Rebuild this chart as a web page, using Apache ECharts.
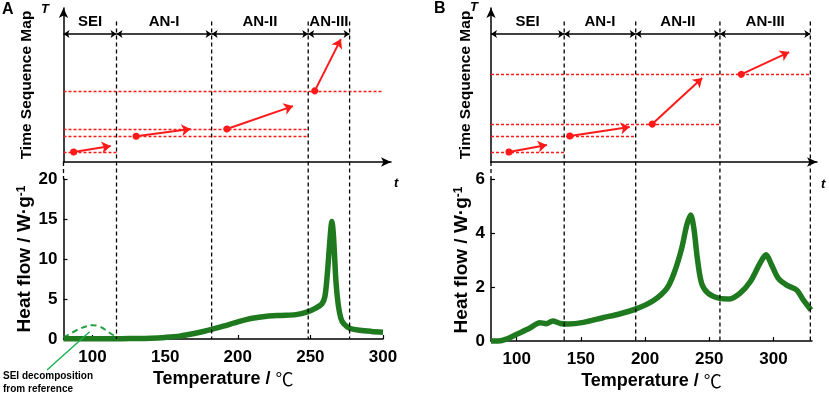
<!DOCTYPE html>
<html><head><meta charset="utf-8">
<script src="https://cdn.jsdelivr.net/npm/echarts@6/dist/echarts.min.js"></script>
<style>html,body{margin:0;padding:0;background:#fff}#c{width:829px;height:395px}</style>
</head><body><div id="c"></div>
<script>
// ---------------- data ----------------
const phases = ['SEI', 'AN-I', 'AN-II', 'AN-III'];
const boundsA = [80, 116.5, 182, 248.5, 277];
const boundsB = [80, 137, 192.7, 258.3, 328.7];

const tempA = [80, 90, 100, 110, 120, 130, 140, 150, 160, 170, 180, 190, 200, 210, 220, 230, 240, 248, 254, 258, 260, 261.6, 263, 264, 264.8, 265.6, 266.4, 267.6, 269.2, 271, 273, 277, 284, 292, 300];
const heatA = [0.02, 0.02, 0.02, 0.03, 0.04, 0.06, 0.1, 0.2, 0.36, 0.68, 1.1, 1.6, 2.15, 2.6, 2.85, 2.95, 3.05, 3.4, 3.9, 4.4, 5.3, 8, 11.3, 13.6, 14.7, 13.6, 11.3, 7.2, 4.25, 2.6, 1.9, 1.35, 1.1, 0.95, 0.85];

const seiTempA = [80, 84, 88, 92, 96, 100, 104, 108, 112, 116];
const seiHeatA = [0.2, 0.6, 1.0, 1.35, 1.6, 1.72, 1.62, 1.25, 0.75, 0.3];

const tempB = [80, 86, 92, 100, 110, 118, 123, 128, 134, 140, 152, 167, 180, 193, 206, 217, 223, 228.5, 232.5, 235.5, 238, 240.7, 244, 249, 258, 266, 274, 282, 289.5, 294.2, 298.6, 303.8, 310.3, 318, 323.2, 329.2];
const heatB = [0, 0, 0.07, 0.25, 0.47, 0.68, 0.64, 0.74, 0.65, 0.63, 0.69, 0.86, 1.0, 1.19, 1.48, 1.95, 2.57, 3.43, 4.3, 4.67, 4.17, 3.06, 2.14, 1.77, 1.58, 1.56, 1.77, 2.2, 2.88, 3.19, 2.81, 2.32, 2.07, 1.89, 1.52, 1.15];

// time-sequence map (arbitrary T units)
const arrowStartA = [[87, 6.3], [130, 16.3], [192.5, 20.9], [253, 45]];
const arrowEndA = [[112.5, 10.1], [167.5, 20.9], [238, 35.4], [271, 77.8]];
const levelA = [45, 20.9, 16, 6.3];
const levelEndA = [300, 248.5, 248.5, 116.5];

const arrowStartB = [[94, 6.3], [141.4, 16.5], [205.6, 24], [274.9, 55.5]];
const arrowEndB = [[123.5, 10.8], [188, 22.2], [244.5, 53.2], [312.2, 69.6]];
const levelB = [55.5, 24, 16, 6.3];
const levelEndB = [328.7, 258.3, 192.7, 136.9];

const xTicks = [100, 150, 200, 250, 300];
const phaseRowT = 81;
const dashTopT = 89;

// ---------------- chart ----------------
const FONT = 'Arial, "Liberation Sans", Helvetica, sans-serif';
const GREEN = '#1f7a1f';
const RED = '#ff1a1a';
const BLACK = '#000';

const chart = echarts.init(document.getElementById('c'));

const GA = {left: 63.5, wBot: 319.5, wTop: 327.5};
const GB = {left: 491, wBot: 321, wTop: 326};
const xMinA = 80, xMaxA = 300, xMinB = 80, xMaxB = 330;
const topMaxA = xMinA + GA.wTop / GA.wBot * (xMaxA - xMinA);
const topMaxB = xMinB + GB.wTop / GB.wBot * (xMaxB - xMinB);
const TMAX = 97.5;

const zip = (a, b) => a.map((v, i) => [v, b[i]]);

function topX(gi, max) {
  return {gridIndex: gi, type: 'value', min: 80, max: max,
    axisLine: {show: true, onZero: false, symbol: ['none', 'arrow'], symbolSize: [7, 10], lineStyle: {color: BLACK, width: 1.5}},
    axisTick: {show: false}, axisLabel: {show: false}, splitLine: {show: false}};
}
function topY(gi, gap) {
  return {gridIndex: gi, type: 'value', min: 0, max: TMAX,
    axisLine: {show: true, onZero: false, symbol: ['none', 'arrow'], symbolSize: [7, 10], lineStyle: {color: BLACK, width: 1.5}},
    axisTick: {show: false}, axisLabel: {show: false}, splitLine: {show: false},
    name: 'Time Sequence Map', nameLocation: 'middle', nameGap: gap,
    nameTextStyle: {fontFamily: FONT, fontWeight: 'bold', fontSize: 15.5, color: BLACK}};
}
function botX(gi, min, max) {
  return {gridIndex: gi, type: 'value', min: min, max: max,
    axisLine: {onZero: false, lineStyle: {color: BLACK, width: 1.5}},
    axisTick: {show: true, inside: true, length: 4, customValues: xTicks, lineStyle: {color: BLACK, width: 1.2}},
    axisLabel: {customValues: xTicks, margin: 10, fontFamily: FONT, fontWeight: 'bold', fontSize: 17, color: BLACK},
    splitLine: {show: false},
    name: '{a|Temperature / }{c|℃}', nameLocation: 'middle', nameGap: 31,
    nameTextStyle: {color: BLACK, rich: {
      a: {fontFamily: FONT, fontWeight: 'bold', fontSize: 18, color: BLACK},
      c: {fontFamily: '"Noto Sans CJK SC", sans-serif', fontWeight: 'normal', fontSize: 18, color: BLACK}
    }}};
}
function botY(gi, max, interval, gap) {
  return {gridIndex: gi, type: 'value', min: 0, max: max, interval: interval,
    axisLine: {show: true, onZero: false, lineStyle: {color: BLACK, width: 1.5}},
    axisTick: {show: true, inside: true, length: 4, lineStyle: {color: BLACK, width: 1.2}},
    axisLabel: {margin: 6, fontFamily: FONT, fontWeight: 'bold', fontSize: 17, color: BLACK},
    splitLine: {show: false},
    name: '{a|Heat flow / W·g}{s|-1}', nameLocation: 'middle', nameGap: gap,
    nameTextStyle: {color: BLACK, rich: {
      a: {fontFamily: FONT, fontWeight: 'bold', fontSize: 19, color: BLACK},
      s: {fontFamily: FONT, fontWeight: 'bold', fontSize: 12, color: BLACK, verticalAlign: 'top', lineHeight: 14}
    }}};
}

function timeSeries(xi, bounds, levels, levelEnds, aStart, aEnd) {
  return [
    {type: 'lines', coordinateSystem: 'cartesian2d', xAxisIndex: xi, yAxisIndex: xi, clip: false, silent: true, z: 4,
      data: levels.map((v, i) => ({coords: [[bounds[0], v], [levelEnds[i], v]], lineStyle: {color: RED}})),
      symbol: ['none', 'none'], lineStyle: {color: RED, width: 1.3, type: [3, 2], opacity: 1}},
    {type: 'lines', coordinateSystem: 'cartesian2d', xAxisIndex: xi, yAxisIndex: xi, clip: false, silent: true, z: 5,
      data: aStart.map((s, i) => ({coords: [s, aEnd[i]]})),
      symbol: ['circle', 'arrow'], symbolSize: [7, 9], itemStyle: {color: RED},
      lineStyle: {color: RED, width: 2, opacity: 1}},
    {type: 'lines', coordinateSystem: 'cartesian2d', xAxisIndex: xi, yAxisIndex: xi, clip: false, silent: true, z: 5,
      data: phases.map((p, i) => ({name: p, coords: [[bounds[i], phaseRowT], [bounds[i + 1], phaseRowT]]})),
      symbol: ['arrow', 'arrow'], symbolSize: 6,
      lineStyle: {color: BLACK, width: 1.5, opacity: 1},
      label: {show: true, position: 'insideMiddleTop', distance: 5, formatter: p => p.name,
        fontFamily: FONT, fontWeight: 'bold', fontSize: 15, color: BLACK}}
  ];
}

const option = {
  animation: false,
  backgroundColor: '#fff',
  grid: [
    {left: GA.left, top: 8, width: GA.wTop, height: 154},
    {left: GA.left, top: 179, width: GA.wBot, height: 160},
    {left: GB.left, top: 8, width: GB.wTop, height: 154},
    {left: GB.left, top: 179, width: GB.wBot, height: 162}
  ],
  xAxis: [topX(0, topMaxA), botX(1, xMinA, xMaxA), topX(2, topMaxB), botX(3, xMinB, xMaxB)],
  yAxis: [topY(0, 29), botY(1, 20, 5, 26), topY(2, 17), botY(3, 6, 2, 19)],
  series: [
    {type: 'line', xAxisIndex: 1, yAxisIndex: 1, data: zip(seiTempA, seiHeatA), showSymbol: false, smooth: 0.5, clip: false,
      lineStyle: {color: '#25a244', width: 2, type: [6, 4]}, z: 2},
    {type: 'line', xAxisIndex: 1, yAxisIndex: 1, data: zip(tempA, heatA), showSymbol: false, smooth: 0.3, clip: false,
      lineStyle: {color: GREEN, width: 5.5}, z: 3},
    {type: 'line', xAxisIndex: 3, yAxisIndex: 3, data: zip(tempB, heatB), showSymbol: false, smooth: 0.3, clip: false,
      lineStyle: {color: GREEN, width: 5.5}, z: 3},
    ...timeSeries(0, boundsA, levelA, levelEndA, arrowStartA, arrowEndA),
    ...timeSeries(2, boundsB, levelB, levelEndB, arrowStartB, arrowEndB)
  ]
};
chart.setOption(option);

// ---- annotations positioned through the chart's own scales ----
const px = (gi, pt) => chart.convertToPixel({gridIndex: gi}, pt);
const graphics = [];
const dashStyle = {stroke: BLACK, lineWidth: 1.3, lineDash: [4, 3]};
function vdash(topGi, botGi, xv, tTop, yTopBot, yBot) {
  const xPix = px(botGi, [xv, 0])[0];
  const y1 = px(topGi, [xv, tTop])[1];
  const y2 = px(botGi, [xv, yBot])[1];
  graphics.push({type: 'line', silent: true, z: 10, shape: {x1: xPix, y1: y1, x2: xPix, y2: y2}, style: dashStyle});
}
boundsA.slice(1).forEach(b => vdash(0, 1, b, dashTopT, null, 0));
boundsB.slice(1).forEach(b => vdash(2, 3, b, dashTopT, null, 0));
// short dashed joins between the two panels along the left axes
function gapLine(topGi, botGi, xv, yMax) {
  const xPix = px(botGi, [xv, 0])[0];
  graphics.push({type: 'line', silent: true, z: 10,
    shape: {x1: xPix, y1: px(topGi, [xv, 0])[1], x2: xPix, y2: px(botGi, [xv, yMax])[1]}, style: dashStyle});
}
gapLine(0, 1, boundsA[0], 20);
gapLine(2, 3, boundsB[0], 6);

// SEI annotation leader
const lead = px(1, [98, 0.9]);
graphics.push({type: 'line', silent: true, z: 10, shape: {x1: 47, y1: 370, x2: lead[0], y2: lead[1]}, style: {stroke: '#12b04a', lineWidth: 1.3}});

function txt(x, y, text, font) {
  graphics.push({type: 'text', x: x, y: y, silent: true, z: 10,
    style: {text: text, font: font, fill: BLACK, textAlign: 'left', textVerticalAlign: 'top', align: 'left', verticalAlign: 'top'}});
}
txt(2, 2, 'A', 'bold 16px ' + FONT);
txt(434, 1, 'B', 'bold 16px ' + FONT);
txt(41, 3, 'T', 'italic bold 13px ' + FONT);
txt(470, 1, 'T', 'italic bold 13px ' + FONT);
txt(394, 177, 't', 'italic bold 13px ' + FONT);
txt(821, 178, 't', 'italic bold 13px ' + FONT);
graphics.push({type: 'text', x: 3, y: 370, silent: true, z: 10,
  style: {text: 'SEI decomposition\nfrom reference', font: 'bold 10px ' + FONT, fill: BLACK, lineHeight: 13,
    textAlign: 'left', textVerticalAlign: 'top', align: 'left', verticalAlign: 'top'}});

chart.setOption({graphic: graphics});
</script>
</body></html>
